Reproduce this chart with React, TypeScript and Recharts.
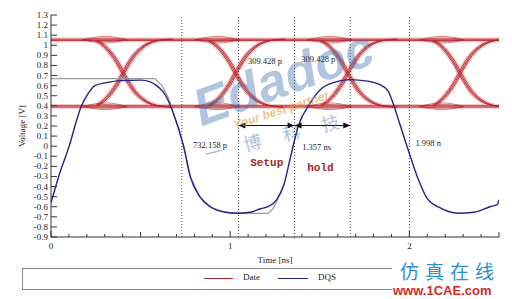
import React from 'react';
import { LineChart, Line, XAxis, YAxis, ReferenceLine, ReferenceDot } from 'recharts';

// axis ticks
const xTicks = [0, 0.1, 0.2, 0.3, 0.4, 0.5, 0.6, 0.7, 0.8, 0.9, 1, 1.1, 1.2, 1.3, 1.4, 1.5, 1.6, 1.7, 1.8, 1.9, 2, 2.1, 2.2, 2.3, 2.4, 2.5];
const yTicks = [-0.9, -0.8, -0.7, -0.6, -0.5, -0.4, -0.3, -0.2, -0.1, 0, 0.1, 0.2, 0.3, 0.4, 0.5, 0.6, 0.7, 0.8, 0.9, 1, 1.1, 1.2, 1.3];

// "Date" eye diagram: crossing times, rail levels and the edge shape
const crossings = [0.415, 1.042, 1.668, 2.294];
const highLevels = [1.048, 1.06];
const lowLevels = [0.388, 0.4];
const edgeOffsets = [-0.16, -0.1, -0.045, 0, 0.05, 0.106, 0.18, 0.26];
const edgeShape = [0, 0.13, 0.33, 0.55, 0.76, 0.9, 0.98, 1];
const edgeJitter = [-0.008, 0, 0.008];
const lensOffsets = [-0.24, -0.11, 0.01];
const lensBulge = [0.035, 0.018, -0.018, -0.032];

// DQS strobe
const dqsTime = [0, 0.05, 0.105, 0.14, 0.17, 0.2, 0.245, 0.31, 0.385, 0.5, 0.55, 0.59, 0.625, 0.646, 0.68, 0.74, 0.777, 0.83, 0.888, 0.96, 1.04, 1.11, 1.17, 1.21, 1.26, 1.3, 1.335, 1.38, 1.447, 1.503, 1.575, 1.67, 1.765, 1.855, 1.88, 1.91, 1.95, 2.005, 2.05, 2.1, 2.17, 2.27, 2.36, 2.45, 2.49, 2.5];
const dqsVolt = [-0.56, -0.26, 0.02, 0.24, 0.4, 0.5, 0.6, 0.63, 0.65, 0.655, 0.64, 0.6, 0.54, 0.48, 0.34, 0.0, -0.3, -0.5, -0.6, -0.65, -0.665, -0.655, -0.62, -0.6, -0.53, -0.38, -0.12, 0.2, 0.43, 0.56, 0.63, 0.66, 0.645, 0.59, 0.55, 0.42, 0.2, -0.1, -0.33, -0.52, -0.61, -0.665, -0.655, -0.6, -0.58, -0.53];

// thin grey strobe reference
const refTime = [0, 0.58, 0.62, 0.66, 0.74, 0.777, 0.83, 0.888, 0.96, 1.04, 1.21, 1.24, 1.27, 1.3];
const refVolt = [0.67, 0.67, 0.6, 0.46, 0.0, -0.3, -0.5, -0.6, -0.65, -0.665, -0.665, -0.62, -0.5, -0.38];

const markers = [0.73, 1.046, 1.359, 1.67, 2.0];
const spanStart = [1.046, 1.359];
const spanEnd = [1.359, 1.67];
const arrowLevel = 0.205;

const noteText = ['309.428 p', '309.428 p', '732.158 p', '1.357 ns', '1.998 n'];
const noteTime = [1.099, 1.397, 0.793, 1.402, 2.034];
const noteVolt = [0.84, 0.86, 0.016, -0.01, 0.036];
const tagText = ['Setup', 'hold'];
const tagTime = [1.112, 1.43];
const tagVolt = [-0.16, -0.21];

type Pt = { t: number; v: number };

const toPts = (ts: number[], vs: number[]): Pt[] => ts.map((t, i) => ({ t, v: vs[i] }));

const flatTraces: Pt[][] = [...highLevels, ...lowLevels].map((L) => [{ t: 0, v: L }, { t: 2.5, v: L }]);

const edgeTraces: Pt[][] = [];
crossings.forEach((c) => {
  edgeJitter.forEach((j) => {
    // rising and falling edge
    edgeTraces.push(edgeOffsets.map((dt, i) => ({ t: c + j + dt, v: lowLevels[1] + (highLevels[1] - lowLevels[1]) * edgeShape[i] })));
    edgeTraces.push(edgeOffsets.map((dt, i) => ({ t: c - j + dt, v: highLevels[0] + (lowLevels[0] - highLevels[0]) * edgeShape[i] })));
  });
});

const lensTraces: Pt[][] = [];
crossings.forEach((c) => {
  [highLevels[0] + 0.006, lowLevels[1] - 0.006].forEach((L) => {
    lensBulge.forEach((b) => {
      lensTraces.push(lensOffsets.map((dt, i) => ({ t: c + dt, v: i === 1 ? L + b : L })));
    });
  });
});

const dqs = toPts(dqsTime, dqsVolt);
const ref = toPts(refTime, refVolt);

const AXIS = '#333';
const RED = '#b3242b';
const GLOW = '#f5c4c4';
const BLUE = '#22228c';
const FONT = '"Liberation Serif", "DejaVu Serif", serif';

const BottomTick = (p: any) => {
  const v = p.payload.value;
  const whole = Math.abs(v - Math.round(v)) < 1e-6;
  const half = Math.abs(v * 2 - Math.round(v * 2)) < 1e-6;
  const len = whole ? 6 : half ? 5 : 3;
  return (
    <g>
      <line x1={p.x} x2={p.x} y1={p.y} y2={p.y - len} stroke={AXIS} />
      {whole && (
        <text x={p.x} y={p.y + 12} textAnchor="middle" fontSize={9} fontFamily={FONT} fill="#222">
          {v}
        </text>
      )}
    </g>
  );
};

const TopTick = (p: any) => {
  const v = p.payload.value;
  const half = Math.abs(v * 2 - Math.round(v * 2)) < 1e-6;
  return <line x1={p.x} x2={p.x} y1={p.y} y2={p.y + (half ? 5 : 3)} stroke={AXIS} />;
};

const LeftTick = (p: any) => (
  <g>
    <line x1={p.x} x2={p.x + 6} y1={p.y} y2={p.y} stroke={AXIS} />
    <text x={p.x - 3} y={p.y + 3} textAnchor="end" fontSize={9} fontFamily={FONT} fill="#222">
      {p.payload.value}
    </text>
  </g>
);

const RightTick = (p: any) => <line x1={p.x} x2={p.x - 4} y1={p.y} y2={p.y} stroke={AXIS} />;

const Arrow = (p: any) => {
  const { x1, y1, x2, y2 } = p;
  return (
    <g>
      <line x1={x1} y1={y1} x2={x2} y2={y2} stroke="#111" />
      <path d={`M${x1},${y1} l7,-3 l0,6 z`} fill="#111" />
      <path d={`M${x2},${y2} l-7,-3 l0,6 z`} fill="#111" />
    </g>
  );
};

const ids = { xAxisId: 'b', yAxisId: 'l' };

export default function App() {
  return (
    <div style={{ position: 'absolute', left: 0, top: 0, width: 512, height: 299, background: '#fff', overflow: 'hidden' }}>
      <LineChart width={512} height={299} margin={{ top: 15, right: 13, bottom: 34, left: 0 }}>
        <XAxis
          xAxisId="b"
          type="number"
          dataKey="t"
          domain={[0, 2.5]}
          allowDataOverflow
          ticks={xTicks}
          interval={0}
          tickSize={0}
          tickMargin={0}
          tick={BottomTick}
          tickLine={false}
          axisLine={{ stroke: AXIS }}
          height={28}
          label={{ value: 'Time [ns]', position: 'insideBottom', offset: 2, fontSize: 9, fontFamily: FONT, fill: '#222' }}
        />
        <XAxis
          xAxisId="t"
          orientation="top"
          type="number"
          dataKey="t"
          domain={[0, 2.5]}
          allowDataOverflow
          ticks={xTicks}
          interval={0}
          tickSize={0}
          tickMargin={0}
          tick={TopTick}
          tickLine={false}
          axisLine={{ stroke: AXIS }}
          height={0}
        />
        <YAxis
          yAxisId="l"
          type="number"
          domain={[-0.9, 1.3]}
          allowDataOverflow
          ticks={yTicks}
          interval={0}
          tickSize={0}
          tickMargin={0}
          tick={LeftTick}
          tickLine={false}
          axisLine={{ stroke: AXIS }}
          width={51}
          label={(p: any) => (
            <text
              x={23}
              y={126}
              transform="rotate(-90 23 126)"
              textAnchor="middle"
              dominantBaseline="middle"
              fontSize={9}
              fontFamily={FONT}
              fill="#222"
            >
              Voltage [V]
            </text>
          )}
        />
        <YAxis
          yAxisId="r"
          orientation="right"
          type="number"
          domain={[-0.9, 1.3]}
          allowDataOverflow
          ticks={yTicks}
          interval={0}
          tickSize={0}
          tickMargin={0}
          tick={RightTick}
          tickLine={false}
          axisLine={{ stroke: AXIS }}
          width={0}
        />

        {[...flatTraces, ...edgeTraces].map((d, i) => (
          <Line key={`g${i}`} {...ids} data={d} dataKey="v" type="monotone" stroke={GLOW} strokeWidth={3.5} dot={false} activeDot={false} isAnimationActive={false} />
        ))}
        {lensTraces.map((d, i) => (
          <Line key={`l${i}`} {...ids} data={d} dataKey="v" type="monotone" stroke={RED} strokeOpacity={0.7} strokeWidth={0.8} dot={false} activeDot={false} isAnimationActive={false} />
        ))}
        {[...flatTraces, ...edgeTraces].map((d, i) => (
          <Line key={`r${i}`} {...ids} data={d} dataKey="v" type="monotone" stroke={RED} strokeWidth={0.9} dot={false} activeDot={false} isAnimationActive={false} />
        ))}

        {markers.map((m) => (
          <ReferenceLine key={m} {...ids} x={m} stroke="#444" strokeDasharray="1 2" />
        ))}

        <Line {...ids} data={ref} dataKey="v" type="linear" stroke="#9a9a9a" strokeWidth={1.2} dot={false} activeDot={false} isAnimationActive={false} />
        <Line {...ids} data={dqs} dataKey="v" type="monotone" stroke={BLUE} strokeWidth={1.4} dot={false} activeDot={false} isAnimationActive={false} />

        {spanStart.map((s, i) => (
          <ReferenceLine
            key={`a${i}`}
            {...ids}
            segment={[{ x: s, y: arrowLevel }, { x: spanEnd[i], y: arrowLevel }]}
            shape={Arrow}
          />
        ))}

        {noteText.map((txt, i) => (
          <ReferenceDot
            key={`n${i}`}
            {...ids}
            x={noteTime[i]}
            y={noteVolt[i]}
            r={0}
            shape={(p: any) => (
              <text x={p.cx} y={p.cy + 3} fontSize={8.5} fontFamily={FONT} fill="#222">
                {txt}
              </text>
            )}
          />
        ))}
        {tagText.map((txt, i) => (
          <ReferenceDot
            key={`s${i}`}
            {...ids}
            x={tagTime[i]}
            y={tagVolt[i]}
            r={0}
            shape={(p: any) => (
              <text x={p.cx} y={p.cy + 4} fontSize={11} fontWeight="bold" fontFamily='"Liberation Mono", "DejaVu Sans Mono", monospace' fill="#9c2a2a">
                {txt}
              </text>
            )}
          />
        ))}
      </LineChart>

      {/* watermark */}
      <div style={{ position: 'absolute', left: 204, top: 82, fontSize: 52, fontWeight: 'bold', fontStyle: 'italic', fontFamily: 'Arial, "Liberation Sans", sans-serif', color: 'rgba(60,110,175,0.4)', transform: 'rotate(-20deg)', transformOrigin: 'left bottom', pointerEvents: 'none', lineHeight: 1 }}>
        Edadoc
      </div>
      <div style={{ position: 'absolute', left: 236, top: 118, fontSize: 12, fontStyle: 'italic', fontWeight: 'bold', fontFamily: '"Liberation Sans", sans-serif', color: 'rgba(225,150,60,0.6)', transform: 'rotate(-18deg)', transformOrigin: 'left bottom', pointerEvents: 'none', whiteSpace: 'nowrap' }}>
        Your best partner
      </div>
      <div style={{ position: 'absolute', left: 208, top: 140, fontSize: 18, fontFamily: '"Noto Sans CJK SC", sans-serif', color: 'rgba(70,110,170,0.45)', transform: 'rotate(-14deg)', transformOrigin: 'left bottom', pointerEvents: 'none', whiteSpace: 'nowrap', letterSpacing: 22 }}>
        一博科技
      </div>

      {/* legend */}
      <div style={{ position: 'absolute', left: 22, top: 268, width: 477, height: 20, border: '1px solid #888', fontFamily: FONT, fontSize: 9, color: '#222' }}>
        <div style={{ position: 'absolute', left: 181, top: 9, width: 29, borderTop: `1px solid ${RED}` }} />
        <div style={{ position: 'absolute', left: 220, top: 3 }}>Date</div>
        <div style={{ position: 'absolute', left: 255, top: 9, width: 30, borderTop: `1px solid ${BLUE}` }} />
        <div style={{ position: 'absolute', left: 295, top: 3 }}>DQS</div>
      </div>

      {/* site logo */}
      <div style={{ position: 'absolute', left: 392, top: 261, width: 120, height: 38, background: '#fff' }}>
        <div style={{ position: 'absolute', left: 8, top: 0, fontSize: 19, letterSpacing: 6, color: '#2b8fd6', fontFamily: '"Noto Sans CJK SC", sans-serif', lineHeight: 1.1, whiteSpace: 'nowrap' }}>
          仿真在线
        </div>
        <div style={{ position: 'absolute', left: 1, top: 22, fontSize: 13, fontWeight: 'bold', color: '#d42a1f', fontFamily: '"Liberation Sans", Arial, sans-serif', whiteSpace: 'nowrap' }}>
          www.1CAE.com
        </div>
      </div>
    </div>
  );
}
